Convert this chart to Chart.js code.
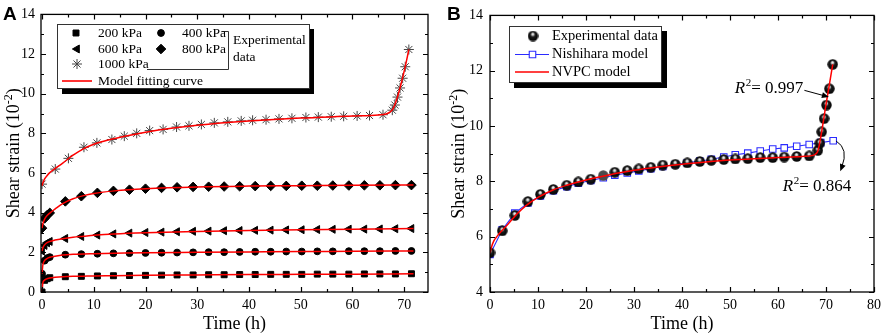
<!DOCTYPE html>
<html><head><meta charset="utf-8">
<script src="https://cdn.jsdelivr.net/npm/chart.js@4.4.1/dist/chart.umd.min.js"></script>
<style>
html,body{margin:0;padding:0;background:#fff;}
#wrap{position:relative;width:886px;height:335px;overflow:hidden;background:#fff;}
canvas{position:absolute;top:0;}
#cA{left:0;} #cB{left:443px;}
</style></head><body>
<div id="wrap"><canvas id="cA" width="443" height="335"></canvas><canvas id="cB" width="443" height="335"></canvas></div>
<script>
// ---------- Panel A data ----------
const timeA = [0, 0.5, 1.0, 1.5, 4.5, 7.6, 10.7, 13.8, 16.9, 20.0, 23.1, 26.1, 29.2, 32.2, 35.2, 38.2, 41.2, 44.2, 47.2, 50.2, 53.2, 56.2, 59.3, 62.3, 65.3, 68.3, 71.4];
const exp200 = [0, 0.59, 0.67, 0.72, 0.77, 0.79, 0.81, 0.82, 0.83, 0.84, 0.85, 0.86, 0.86, 0.87, 0.87, 0.88, 0.88, 0.89, 0.89, 0.89, 0.90, 0.90, 0.90, 0.91, 0.91, 0.91, 0.92];
const exp400 = [0.92, 1.58, 1.71, 1.76, 1.88, 1.91, 1.93, 1.95, 1.96, 1.97, 1.98, 1.99, 2.00, 2.01, 2.01, 2.02, 2.03, 2.03, 2.04, 2.04, 2.05, 2.05, 2.06, 2.06, 2.06, 2.07, 2.07];
const exp600 = [2.07, 2.35, 2.48, 2.55, 2.70, 2.80, 2.87, 2.93, 2.97, 3.00, 3.02, 3.04, 3.06, 3.07, 3.09, 3.10, 3.11, 3.12, 3.13, 3.14, 3.15, 3.16, 3.17, 3.17, 3.18, 3.19, 3.20];
const exp800 = [3.22, 3.71, 3.88, 3.99, 4.57, 4.83, 5.00, 5.10, 5.16, 5.21, 5.25, 5.28, 5.30, 5.31, 5.32, 5.33, 5.34, 5.35, 5.35, 5.36, 5.36, 5.37, 5.37, 5.38, 5.38, 5.39, 5.39];
const time1000 = [0, 2.56, 5.1, 8.1, 10.6, 13.5, 15.9, 18.3, 20.8, 23.4, 26.0, 28.4, 30.8, 33.3, 35.9, 38.5, 40.7, 43.3, 45.8, 48.3, 51.0, 53.4, 55.9, 58.3, 60.9, 63.3, 65.9, 67.7, 68.2, 68.7, 69.2, 69.7, 70.2, 70.9];
const exp1000 = [5.44, 6.2, 6.74, 7.30, 7.52, 7.69, 7.86, 8.0, 8.14, 8.20, 8.32, 8.38, 8.45, 8.53, 8.58, 8.63, 8.66, 8.69, 8.73, 8.76, 8.80, 8.82, 8.84, 8.86, 8.88, 8.90, 8.94, 9.17, 9.43, 9.83, 10.29, 10.78, 11.36, 12.23];
const fitTimeA = [0, 0.15, 0.4, 0.8, 1.5, 2.5, 4, 6, 8, 10, 14, 20, 30, 40, 50, 60, 71.8];
const fit200 = [0, 0.45, 0.58, 0.65, 0.71, 0.74, 0.77, 0.79, 0.80, 0.81, 0.82, 0.84, 0.86, 0.88, 0.89, 0.90, 0.92];
const fit400 = [0.92, 1.35, 1.55, 1.66, 1.75, 1.80, 1.86, 1.90, 1.92, 1.93, 1.95, 1.98, 2.00, 2.02, 2.04, 2.05, 2.07];
const fit600 = [2.07, 2.22, 2.35, 2.46, 2.55, 2.62, 2.69, 2.76, 2.81, 2.86, 2.93, 2.99, 3.05, 3.10, 3.14, 3.17, 3.20];
const fit800 = [3.22, 3.42, 3.62, 3.80, 3.98, 4.18, 4.46, 4.70, 4.86, 4.97, 5.10, 5.21, 5.30, 5.34, 5.36, 5.38, 5.40];
const fitTime1000 = [0, 0.2, 0.5, 1, 1.5, 2.5, 4, 6, 8, 10, 13, 16, 20, 25, 30, 40, 50, 60, 65, 66.5, 67.3, 67.8, 68.3, 68.8, 69.4, 70.1, 70.9];
const fit1000 = [5.36, 5.52, 5.7, 5.88, 6.02, 6.22, 6.5, 6.9, 7.22, 7.45, 7.68, 7.86, 8.06, 8.26, 8.41, 8.62, 8.77, 8.87, 8.93, 8.98, 9.08, 9.22, 9.52, 9.92, 10.5, 11.25, 12.23];
const legendA = ['200 kPa', '400 kPa', '600 kPa', '800 kPa', '1000 kPa', 'Model fitting curve'];
const xTicksA = [0, 10, 20, 30, 40, 50, 60, 70];
const xMinorA = [5, 15, 25, 35, 45, 55, 65];
const yTicksA = [0, 2, 4, 6, 8, 10, 12, 14];
const yMinorA = [1, 3, 5, 7, 9, 11, 13];

// ---------- Panel B data ----------
const timeB = [0, 2.55, 5.17, 7.9, 10.5, 13.2, 16.0, 18.4, 21.0, 23.6, 26.0, 28.6, 31.0, 33.5, 36.0, 38.6, 41.1, 43.7, 46.1, 48.7, 51.1, 53.7, 56.3, 58.9, 61.3, 63.9, 66.5, 68.3, 68.7, 69.1, 69.6, 70.1, 70.7, 71.4];
const expB = [5.42, 6.21, 6.77, 7.27, 7.53, 7.71, 7.86, 7.98, 8.08, 8.21, 8.33, 8.39, 8.45, 8.51, 8.59, 8.62, 8.67, 8.72, 8.76, 8.79, 8.81, 8.82, 8.86, 8.86, 8.88, 8.90, 8.92, 9.12, 9.38, 9.79, 10.27, 10.76, 11.35, 12.23];
const nishTime = [0, 2.55, 5.17, 7.9, 10.5, 13.2, 16.0, 18.4, 21.0, 23.6, 26.0, 28.6, 31.0, 33.5, 36.0, 38.6, 41.1, 43.7, 46.1, 48.7, 51.1, 53.7, 56.3, 58.9, 61.3, 63.9, 66.5, 68.9, 71.5];
const nishB = [5.36, 6.25, 6.85, 7.22, 7.47, 7.66, 7.81, 7.93, 8.03, 8.13, 8.22, 8.30, 8.38, 8.46, 8.54, 8.61, 8.67, 8.73, 8.80, 8.88, 8.96, 9.02, 9.10, 9.17, 9.21, 9.27, 9.33, 9.40, 9.47];
const nvpcTime = [0, 0.3, 0.8, 1.5, 2.5, 4, 5.5, 7.5, 10, 13, 16, 20, 25, 30, 35, 40, 45, 50, 55, 60, 65, 67, 67.8, 68.3, 68.7, 70.0, 71.4];
const nvpcB = [5.4, 5.62, 5.85, 6.02, 6.22, 6.5, 6.8, 7.12, 7.42, 7.68, 7.86, 8.05, 8.24, 8.40, 8.52, 8.62, 8.70, 8.77, 8.82, 8.86, 8.90, 8.93, 8.98, 9.1, 9.4, 10.77, 12.23];
const legendB = ['Experimental data', 'Nishihara model', 'NVPC model'];
const r2Labels = ['0.997', '0.864'];
const r2Pos = [{x: 51.0, y: 11.18}, {x: 61.0, y: 7.66}];
const arrow1 = {x1: 65.5, y1: 11.29, x2: 70.6, y2: 11.05};
const arrow2 = {x1: 72.1, y1: 9.46, cx: 74.8, cy: 9.18, x2: 72.97, y2: 8.37};
const xTicksB = [0, 10, 20, 30, 40, 50, 60, 70, 80];
const xMinorB = [5, 15, 25, 35, 45, 55, 65, 75];
const yTicksB = [4, 6, 8, 10, 12, 14];
const yMinorB = [5, 7, 9, 11, 13];

// ---------- helpers ----------
const SERIF = '"Liberation Serif", "Times New Roman", serif';
const pts = (xs, ys) => xs.map((t, i) => ({x: t, y: ys[i]}));

function makeBall(d, gray) {
  const c = document.createElement('canvas');
  c.width = c.height = d;
  const g = c.getContext('2d');
  const r = d / 2;
  g.beginPath(); g.arc(r, r, r - 0.3, 0, 2 * Math.PI);
  if (gray) { g.fillStyle = '#4a4a4a'; g.fill(); return c; }
  const grad = g.createRadialGradient(r - r * 0.05, r - r * 0.42, 0, r, r, r);
  grad.addColorStop(0, '#ffffff');
  grad.addColorStop(0.2, '#cfcfcf');
  grad.addColorStop(0.42, '#1c1c1c');
  grad.addColorStop(1, '#000000');
  g.fillStyle = grad; g.fill();
  return c;
}
const ball = makeBall(11, false);
const grayBall = makeBall(11, true);

function drawFrame(chart, xMinor, yMinor) {
  const {ctx, chartArea: a} = chart;
  const xs = chart.scales.x, ys = chart.scales.y;
  ctx.save();
  ctx.strokeStyle = '#000';
  ctx.lineWidth = 1.2;
  const xt = (v, len) => {
    const p = Math.round(xs.getPixelForValue(v)) + 0.5;
    ctx.beginPath();
    ctx.moveTo(p, a.bottom); ctx.lineTo(p, a.bottom - len);
    ctx.moveTo(p, a.top); ctx.lineTo(p, a.top + len);
    ctx.stroke();
  };
  const yt = (v, len) => {
    const p = Math.round(ys.getPixelForValue(v)) + 0.5;
    ctx.beginPath();
    ctx.moveTo(a.left, p); ctx.lineTo(a.left + len, p);
    ctx.moveTo(a.right, p); ctx.lineTo(a.right - len, p);
    ctx.stroke();
  };
  xs.ticks.forEach(t => xt(t.value, 5));
  xMinor.forEach(v => xt(v, 3));
  ys.ticks.forEach(t => yt(t.value, 5));
  yMinor.forEach(v => yt(v, 3));
  ctx.lineWidth = 1.3;
  ctx.strokeRect(a.left, a.top, a.right - a.left, a.bottom - a.top);
  ctx.restore();
}

function drawTitles(chart, yTitleX) {
  const {ctx, chartArea: a} = chart;
  ctx.save();
  ctx.fillStyle = '#000';
  ctx.font = '18px ' + SERIF;
  ctx.textAlign = 'center';
  ctx.textBaseline = 'alphabetic';
  ctx.fillText('Time (h)', (a.left + a.right) / 2, 329);
  // y title with superscript
  const main = 'Shear strain (10', sup = '-2', close = ')';
  ctx.textAlign = 'left';
  ctx.font = '18px ' + SERIF;
  const w1 = ctx.measureText(main).width, w3 = ctx.measureText(close).width;
  ctx.font = '12px ' + SERIF;
  const w2 = ctx.measureText(sup).width;
  const total = w1 + w2 + w3;
  ctx.translate(yTitleX, (a.top + a.bottom) / 2);
  ctx.rotate(-Math.PI / 2);
  let x = -total / 2;
  ctx.font = '18px ' + SERIF; ctx.fillText(main, x, 0); x += w1;
  ctx.font = '12px ' + SERIF; ctx.fillText(sup, x, -7); x += w2;
  ctx.font = '18px ' + SERIF; ctx.fillText(close, x, 0);
  ctx.restore();
}

function drawLetter(ctx, letter, x) {
  ctx.save();
  ctx.fillStyle = '#000';
  ctx.font = 'bold 19px "Liberation Sans", Arial, sans-serif';
  ctx.textBaseline = 'alphabetic';
  ctx.fillText(letter, x, 20);
  ctx.restore();
}

function marker(ctx, style, r, x, y, rot, fill, stroke, bw) {
  ctx.save();
  ctx.fillStyle = fill; ctx.strokeStyle = stroke;
  ctx.lineWidth = bw;
  Chart.helpers.drawPoint(ctx, {pointStyle: style, radius: r, rotation: rot || 0, borderWidth: bw}, x, y);
  ctx.restore();
}

function arrowHead(ctx, x, y, ang) {
  const L = 7, W = 3;
  ctx.beginPath();
  ctx.moveTo(x, y);
  ctx.lineTo(x - L * Math.cos(ang) + W * Math.sin(ang), y - L * Math.sin(ang) - W * Math.cos(ang));
  ctx.lineTo(x - L * Math.cos(ang) - W * Math.sin(ang), y - L * Math.sin(ang) + W * Math.cos(ang));
  ctx.closePath();
  ctx.fill();
}

function drawR2(ctx, x, y, val) {
  ctx.save();
  ctx.fillStyle = '#000';
  ctx.textBaseline = 'alphabetic';
  ctx.font = 'italic 17px ' + SERIF;
  ctx.fillText('R', x, y);
  let cx = x + ctx.measureText('R').width;
  ctx.font = '11px ' + SERIF;
  ctx.fillText('2', cx + 0.5, y - 7);
  cx += ctx.measureText('2').width + 0.5;
  ctx.font = '17px ' + SERIF;
  ctx.fillText('= ' + val, cx, y);
  ctx.restore();
}

const decorA = {
  id: 'decorA',
  afterDraw(chart) {
    drawFrame(chart, xMinorA, yMinorA);
    drawTitles(chart, 19);
    const ctx = chart.ctx;
    drawLetter(ctx, 'A', 3);
    // legend box with shadow
    ctx.save();
    ctx.fillStyle = '#000';
    ctx.fillRect(62, 29, 252, 65);
    ctx.fillStyle = '#fff';
    ctx.fillRect(57, 24, 253, 65);
    ctx.strokeStyle = '#333'; ctx.lineWidth = 1;
    ctx.strokeRect(57.5, 24.5, 252, 64);
    // bracket
    ctx.beginPath();
    ctx.moveTo(222, 31.5); ctx.lineTo(228.5, 31.5); ctx.lineTo(228.5, 69.5); ctx.lineTo(147, 69.5);
    ctx.stroke();
    ctx.restore();
    marker(ctx, 'rect', 4.2, 76, 33, 0, '#000', '#000', 1);
    marker(ctx, 'circle', 3.4, 161, 33, 0, '#000', '#000', 1);
    marker(ctx, 'triangle', 4.6, 77, 49, -90, '#000', '#000', 1);
    marker(ctx, 'rectRot', 4.8, 161, 49, 0, '#000', '#000', 1);
    marker(ctx, 'star', 5, 77, 64, 0, '#444', '#444', 1);
    ctx.save();
    ctx.strokeStyle = '#ff0000'; ctx.lineWidth = 1.6;
    ctx.beginPath(); ctx.moveTo(62, 81); ctx.lineTo(92, 81); ctx.stroke();
    ctx.fillStyle = '#000';
    ctx.font = '13.5px ' + SERIF;
    ctx.textBaseline = 'middle';
    ctx.fillText(legendA[0], 98, 33);
    ctx.fillText(legendA[1], 182, 33);
    ctx.fillText(legendA[2], 98, 49);
    ctx.fillText(legendA[3], 182, 49);
    ctx.fillText(legendA[4], 98, 64);
    ctx.fillText(legendA[5], 98, 81);
    ctx.fillText('Experimental', 233, 40);
    ctx.fillText('data', 233, 57);
    ctx.restore();
  }
};

const decorB = {
  id: 'decorB',
  afterDraw(chart) {
    drawFrame(chart, xMinorB, yMinorB);
    drawTitles(chart, 21);
    const ctx = chart.ctx;
    drawLetter(ctx, 'B', 4);
    ctx.save();
    ctx.fillStyle = '#000';
    ctx.fillRect(71, 31, 153, 57);
    ctx.fillStyle = '#fff';
    ctx.fillRect(66, 26, 153, 57);
    ctx.strokeStyle = '#333'; ctx.lineWidth = 1;
    ctx.strokeRect(66.5, 26.5, 152, 56);
    ctx.drawImage(ball, 90 - 5.5, 36 - 5.5);
    ctx.strokeStyle = '#2b2bff'; ctx.lineWidth = 1.1;
    ctx.beginPath(); ctx.moveTo(72, 54.5); ctx.lineTo(106, 54.5); ctx.stroke();
    ctx.restore();
    marker(ctx, 'rect', 4.6, 89.5, 54.5, 0, '#fff', '#2b2bff', 1.1);
    ctx.save();
    ctx.strokeStyle = '#ff0000'; ctx.lineWidth = 1.6;
    ctx.beginPath(); ctx.moveTo(72, 72); ctx.lineTo(106, 72); ctx.stroke();
    ctx.fillStyle = '#000';
    ctx.font = '14.5px ' + SERIF;
    ctx.textBaseline = 'middle';
    ctx.fillText(legendB[0], 109, 36);
    ctx.fillText(legendB[1], 109, 54);
    ctx.fillText(legendB[2], 109, 72);
    ctx.restore();
    // annotations
    const xs = chart.scales.x, ys = chart.scales.y;
    r2Pos.forEach((p, i) => drawR2(ctx, xs.getPixelForValue(p.x), ys.getPixelForValue(p.y), r2Labels[i]));
    ctx.save();
    ctx.strokeStyle = '#000'; ctx.fillStyle = '#000'; ctx.lineWidth = 1;
    let x1 = xs.getPixelForValue(arrow1.x1), y1 = ys.getPixelForValue(arrow1.y1);
    let x2 = xs.getPixelForValue(arrow1.x2), y2 = ys.getPixelForValue(arrow1.y2);
    let ang = Math.atan2(y2 - y1, x2 - x1);
    ctx.beginPath(); ctx.moveTo(x1, y1); ctx.lineTo(x2 - 5 * Math.cos(ang), y2 - 5 * Math.sin(ang)); ctx.stroke();
    arrowHead(ctx, x2, y2, ang);
    x1 = xs.getPixelForValue(arrow2.x1); y1 = ys.getPixelForValue(arrow2.y1);
    const cx = xs.getPixelForValue(arrow2.cx), cy = ys.getPixelForValue(arrow2.cy);
    x2 = xs.getPixelForValue(arrow2.x2); y2 = ys.getPixelForValue(arrow2.y2);
    ang = Math.atan2(y2 - cy, x2 - cx);
    ctx.beginPath(); ctx.moveTo(x1, y1); ctx.quadraticCurveTo(cx, cy, x2 - 4 * Math.cos(ang), y2 - 4 * Math.sin(ang)); ctx.stroke();
    arrowHead(ctx, x2, y2, ang);
    ctx.restore();
  }
};

function axisCfg(min, max, ticks, size, isX, pad) {
  return {
    type: 'linear', min: min, max: max,
    afterBuildTicks: s => { s.ticks = ticks.map(v => ({value: v})); },
    afterFit: s => { if (isX) s.height = size; else s.width = size; },
    grid: {display: false, drawTicks: false},
    border: {display: false},
    ticks: {padding: pad, color: '#000', autoSkip: false, maxRotation: 0, font: {family: SERIF, size: 14}}
  };
}

const redLine = (xs, ys) => ({data: pts(xs, ys), showLine: true, borderColor: '#ff0000', borderWidth: 1.5, pointRadius: 0, cubicInterpolationMode: 'monotone', fill: false, order: 0});

new Chart(document.getElementById('cA'), {
  type: 'scatter',
  data: {
    datasets: [
      redLine(fitTimeA, fit200),
      redLine(fitTimeA, fit400),
      redLine(fitTimeA, fit600),
      redLine(fitTimeA, fit800),
      redLine(fitTime1000, fit1000),
      {label: legendA[0], data: pts(timeA, exp200), pointStyle: 'rect', pointRadius: 4.2, backgroundColor: '#000', borderColor: '#000', borderWidth: 1, order: 1},
      {label: legendA[1], data: pts(timeA, exp400), pointStyle: 'circle', pointRadius: 3.4, backgroundColor: '#000', borderColor: '#000', borderWidth: 1, order: 1},
      {label: legendA[2], data: pts(timeA, exp600), pointStyle: 'triangle', pointRotation: -90, pointRadius: 4.6, backgroundColor: '#000', borderColor: '#000', borderWidth: 1, order: 1},
      {label: legendA[3], data: pts(timeA, exp800), pointStyle: 'rectRot', pointRadius: 4.8, backgroundColor: '#000', borderColor: '#000', borderWidth: 1, order: 1},
      {label: legendA[4], data: pts(time1000, exp1000), pointStyle: 'star', pointRadius: 5, backgroundColor: '#444', borderColor: '#444', borderWidth: 1, order: 1}
    ]
  },
  options: {
    responsive: false, animation: false, devicePixelRatio: 1,
    layout: {padding: {left: 0, top: 8, right: 15, bottom: 0}, autoPadding: false},
    plugins: {legend: {display: false}, tooltip: {enabled: false}},
    scales: {x: axisCfg(-0.2, 74.6, xTicksA, 43, true, 5), y: axisCfg(0, 14, yTicksA, 41, false, 6)}
  },
  plugins: [decorA]
});

new Chart(document.getElementById('cB'), {
  type: 'scatter',
  data: {
    datasets: [
      {label: legendB[2], ...redLine(nvpcTime, nvpcB)},
      {label: legendB[0], data: pts(timeB, expB), pointStyle: timeB.map((t, i) => i === 9 ? grayBall : ball), pointRadius: 5.5, order: 1},
      {label: legendB[1], data: pts(nishTime, nishB), showLine: true, borderColor: '#2b2bff', borderWidth: 1.1, pointStyle: 'rect', pointRadius: 4.6, pointBackgroundColor: '#fff', pointBorderColor: '#2b2bff', pointBorderWidth: 1.1, order: 2}
    ]
  },
  options: {
    responsive: false, animation: false, devicePixelRatio: 1,
    layout: {padding: {left: 0, top: 8, right: 9, bottom: 0}, autoPadding: false},
    plugins: {legend: {display: false}, tooltip: {enabled: false}},
    scales: {x: axisCfg(0, 80, xTicksB, 43, true, 5), y: axisCfg(4, 14, yTicksB, 47, false, 7)}
  },
  plugins: [decorB]
});
</script>
</body></html>
